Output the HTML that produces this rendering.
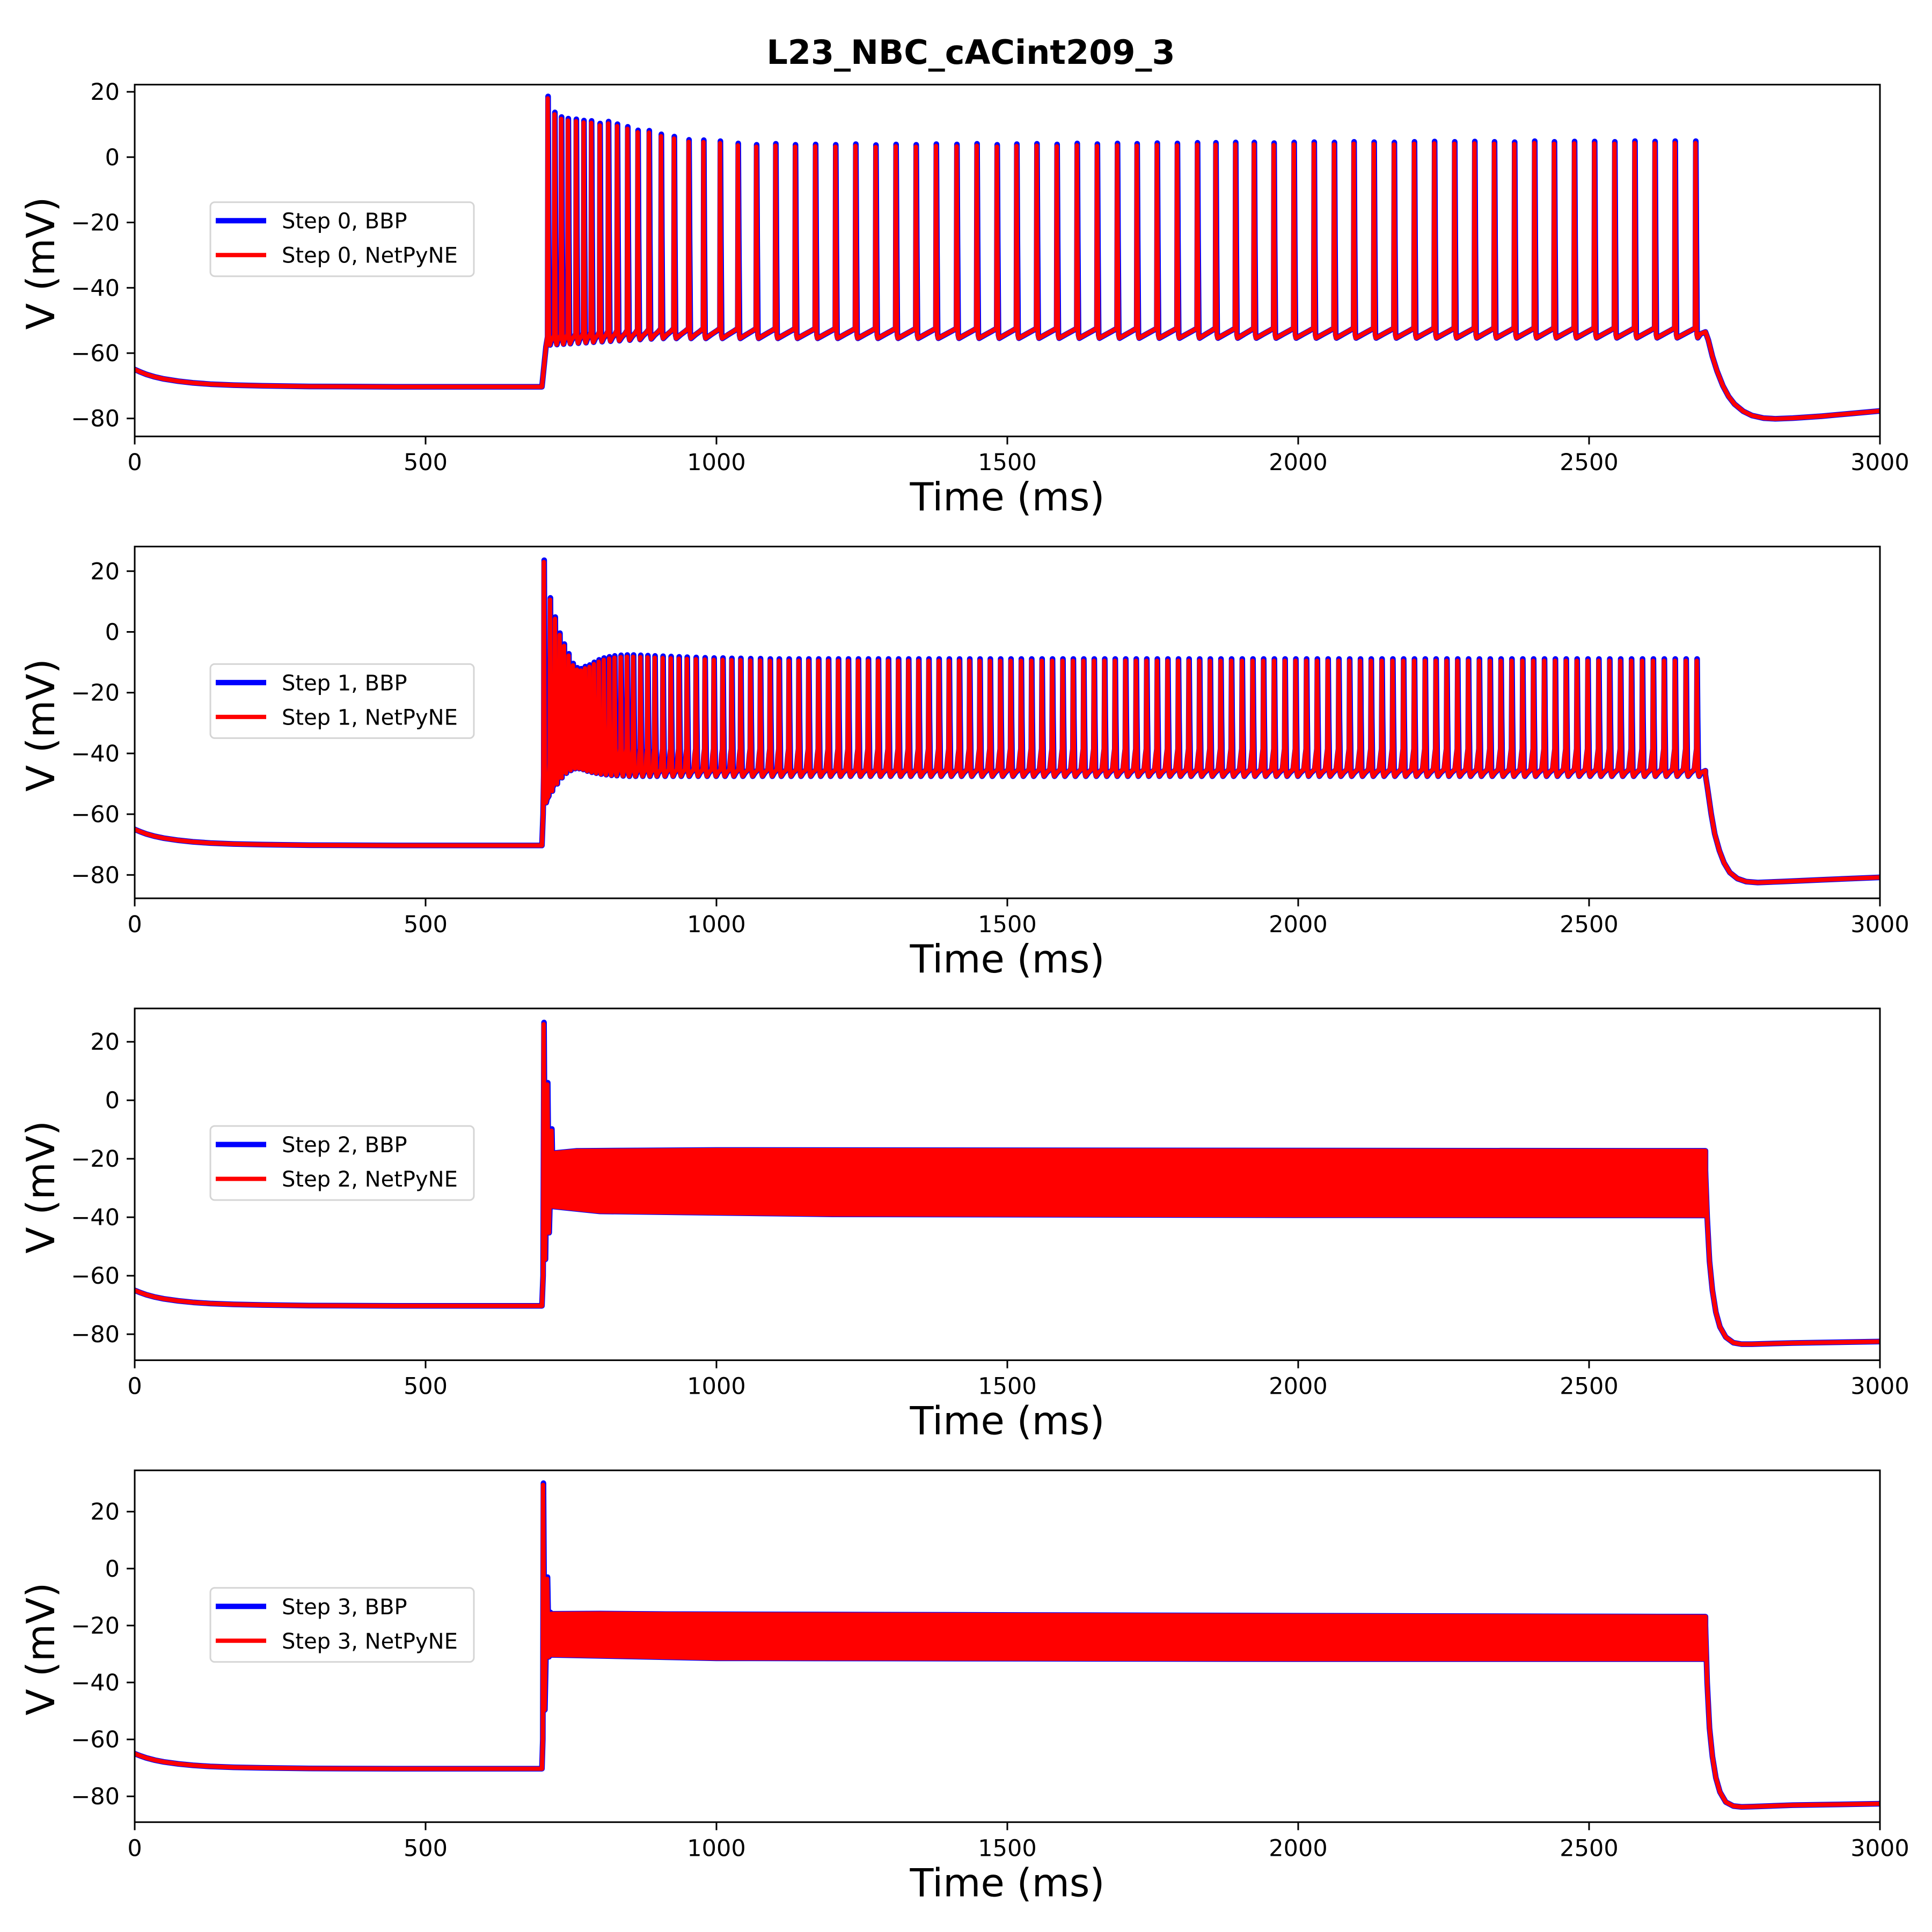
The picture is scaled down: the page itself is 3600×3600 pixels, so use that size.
<!DOCTYPE html>
<html><head><meta charset="utf-8">
<style>
html,body{margin:0;padding:0;background:#fff;}
svg{display:block;}
text{font-family:"DejaVu Sans","Liberation Sans",sans-serif;fill:#000;}
</style></head>
<body>
<svg id="fig" width="3600" height="3600" viewBox="0 0 3600 3600" xmlns="http://www.w3.org/2000/svg">
<rect width="3600" height="3600" fill="#fff"/>
<text x="1809" y="119" font-size="62" font-weight="bold" text-anchor="middle">L23_NBC_cACint209_3</text>
</svg>
<script>
// ---------- data ----------
const xTicks = [0, 500, 1000, 1500, 2000, 2500, 3000];
const yTicks = [-80, -60, -40, -20, 0, 20];
const yRanges = [[-85.5, 22.2], [-87.7, 28.1], [-88.9, 31.4], [-89.06, 34.5]];
const stepNames = ["Step 0", "Step 1", "Step 2", "Step 3"];
const baseline = [[0,-65],[10,-65.8],[20,-66.5],[35,-67.3],[50,-67.9],[75,-68.6],[100,-69.1],[130,-69.5],[170,-69.8],[220,-70],[300,-70.2],[450,-70.3],[700,-70.3]];

// Panel 1 (Step 0)
const p1Times = [710,721.7,733.2,744.8,758.6,771.7,784.8,799.4,814,829.3,847,864.7,884,904.7,927,952.3,977.7,1006.2,1036.9,1068.5,1101.5,1135.3,
 1169.9,1204.5,1239,1273.6,1308.2,1342.8,1377.4,1412.8,1447.4,1482,1515.8,1550.4,1585,1619.6,1654.2,1688.8,1722.6,1757.2,1791.8,1826.4,
 1858,1892,1924,1958,1992.5,2027,2061.7,2095.5,2130,2164.7,2199.3,2233.9,2268.5,2303,2336.9,2371.5,2406,2439.9,2474.5,2509,2543.7,2578.3,2612.9,2647.5,2682.9];
const p1Peaks = [18,13.1,11.7,11.2,11,10.6,10.5,9.7,10.3,9.5,8.7,7.6,7.5,6.4,5.7,4.7,4.6,4.3,3.6,3.2,3.5,3.2,
 3.3,3.2,3.4,3.1,3.3,3.2,3.4,3.3,3.5,3.2,3.4,3.5,3.3,3.6,3.4,3.6,3.5,3.7,3.6,3.8,
 3.8,3.9,3.9,3.7,3.9,4.0,3.9,4.1,4.0,3.9,4.1,4.2,4.1,4.2,4.1,4.0,4.3,4.1,4.2,4.2,4.1,4.3,4.2,4.3,4.3];
const p1Troughs = [[710,-57.5],[800,-56.5],[900,-55.5],[2700,-55.3]];
const p1Pre = [[710,-55],[800,-53.5],[900,-52.5],[2700,-52.3]];
const p1Onset = [[700,-70.3],[707,-58]];
const p1After = [[2700,-53.5],[2705,-56],[2712,-61],[2720,-65.5],[2730,-70],[2740,-73.3],[2750,-75.6],[2765,-77.8],[2780,-79.1],[2800,-79.9],[2820,-80.1],[2850,-79.9],[2900,-79.3],[2950,-78.5],[3000,-77.7]];

// Panel 2 (Step 1)
const p2Times = [703.3,714,722.4,730.4,738,745.8,753.2,760.2,767,774,781.7,789.4,797.7,806.3,815.5,824.7,835.5,846.2,857,869.3,881.6,893.9,907.7,921.5,935.4,949.2,964.6,980,995.4,1010.7,1026,1041.4,1058.3,1075.2,1092,1107.5,1124.4];
const p2Peaks = [23,10.6,4.3,-1,-4.6,-7.8,-11,-12.4,-12.7,-12,-11.5,-10.6,-9.8,-9.2,-8.8,-8.5,-8.3,-8.2,-8.2,-8.3,-8.4,-8.5,-8.6,-8.7,-8.8,-8.9,-9,-9.1,-9.2,-9.2,-9.3,-9.3,-9.4,-9.4,-9.5,-9.5,-9.5];
const p2TroughsEarly = [-56.2,-52.4,-50,-48,-46.5,-45.6,-45,-45,-45.3,-45.8,-46.2,-46.5,-46.8,-47,-47.2,-47.3,-47.4,-47.5];
const p2IsiKnots = [[1124,16.9],[1500,17.8],[2000,18.5],[2700,18.8]];
const p2LatePeak = -9.5, p2LateTrough = -47.5, p2StepEnd = 2700;
const p2Onset = [[700,-70.3],[702,-60]];
const p2After = [[2700,-47],[2704,-52],[2710,-60],[2716,-66.5],[2724,-72],[2732,-76],[2742,-79.2],[2755,-81.2],[2770,-82.2],[2790,-82.5],[2830,-82.2],[2900,-81.6],[3000,-80.8]];

// Panel 3 (Step 2)
const p3Times = [703,709.4,716.5];
const p3Peaks = [26,5.4,-10.4];
const p3Troughs = [-54.4,-45.3,-36.3];
const p3Upper = [[718,-18.1],[760,-17.3],[1000,-17],[2000,-17.2],[2700,-17.3]];
const p3Lower = [[718,-36.3],[800,-38],[1200,-39],[2000,-39.3],[2700,-39.4]];
const p3Onset = [[700,-70.3],[702,-60]];
const p3After = [[2700,-24],[2703,-40],[2707,-55],[2712,-65],[2718,-72.5],[2725,-77.5],[2735,-81],[2748,-82.9],[2762,-83.4],[2780,-83.4],[2850,-83],[3000,-82.5]];

// Panel 4 (Step 3)
const p4Times = [702,709,714];
const p4Peaks = [29.4,-3.6,-16];
const p4Troughs = [-49.6,-31,-30.3];
const p4Upper = [[716,-15.9],[800,-15.8],[1200,-16.5],[2000,-16.8],[2700,-16.9]];
const p4Lower = [[716,-30.3],[1000,-31.5],[2000,-31.8],[2700,-31.8]];
const p4Onset = [[700,-70.3],[701.5,-60]];
const p4After = [[2700,-20],[2703,-40],[2707,-56],[2712,-66],[2718,-73.5],[2725,-78.5],[2735,-82],[2748,-83.4],[2762,-83.7],[2780,-83.6],[2850,-83.1],[3000,-82.6]];

// ---------- layout ----------
const NS = "http://www.w3.org/2000/svg";
const svg = document.getElementById("fig");
const AX_L = 251, AX_R = 3503, AX_T0 = 157.7, AX_H = 655.5, AX_GAP = 860.7;
function xs(t){ return AX_L + t*(AX_R-AX_L)/3000; }
function makeY(i){ const [lo,hi]=yRanges[i]; const top=AX_T0+i*AX_GAP; return v => top + (hi-v)*AX_H/(hi-lo); }
function el(tag, attrs, parent){ const e=document.createElementNS(NS,tag); for(const k in attrs) e.setAttribute(k,attrs[k]); (parent||svg).appendChild(e); return e; }
function interp(knots, t){
  if(t<=knots[0][0]) return knots[0][1];
  for(let k=1;k<knots.length;k++){ if(t<=knots[k][0]){ const a=knots[k-1],b=knots[k]; return a[1]+(b[1]-a[1])*(t-a[0])/(b[0]-a[0]); } }
  return knots[knots.length-1][1];
}
function pts2str(pts, ys){ return pts.map(p=>xs(p[0]).toFixed(2)+","+ys(p[1]).toFixed(2)).join(" "); }

function spikeTrain(times, peaks, troughFn, preFn, endT, shift, peakAdd){
  const pts=[];
  for(let i=0;i<times.length;i++){
    const t=times[i]+shift, P=peaks[i]+peakAdd;
    const tn = i+1<times.length ? times[i+1]+shift : endT;
    const tr=troughFn(i,t), pre=preFn(i,t);
    const isi=tn-t;
    pts.push([t-0.8, pre]); pts.push([t, P]); pts.push([t+0.9, (P+tr)/2]);
    pts.push([t+2.2, tr+1]); pts.push([t+3.5, tr]);
    if(i+1<times.length){
      pts.push([t+isi*0.45, tr+1.2]); pts.push([t+isi*0.75, tr+2.2]); pts.push([tn-2, interp([[0,tr+2.6],[1,pre]],0.7)]);
    } else {
      pts.push([t+isi*0.5, tr+1.2]); pts.push([endT, tr+1.8]);
    }
  }
  return pts;
}

function panelTraces(i, ys, shift, peakAdd, grp){
  let pts=[];
  if(i===0){
    pts = baseline.concat(p1Onset)
      .concat(spikeTrain(p1Times, p1Peaks, (k,t)=>interp(p1Troughs,t), (k,t)=>interp(p1Pre,t), 2700, shift, peakAdd))
      .concat(p1After);
  } else if(i===1){
    const times=p2Times.slice(), peaks=p2Peaks.slice();
    let t=times[times.length-1];
    while(true){ t += interp(p2IsiKnots,t); if(t>p2StepEnd-2) break; times.push(t); peaks.push(p2LatePeak); }
    const trf=(k,tt)=> k<p2TroughsEarly.length ? p2TroughsEarly[k] : p2LateTrough;
    const pref=(k,tt)=> trf(k,tt)+9;
    pts = baseline.concat(p2Onset).concat(spikeTrain(times, peaks, trf, pref, 2700, shift, peakAdd)).concat(p2After);
  } else {
    const T = i===2 ? p3Times : p4Times, Pk = i===2 ? p3Peaks : p4Peaks, Tr = i===2 ? p3Troughs : p4Troughs;
    const Up = i===2 ? p3Upper : p4Upper, Lo = i===2 ? p3Lower : p4Lower;
    const onset = i===2 ? p3Onset : p4Onset, after = i===2 ? p3After : p4After;
    pts = baseline.concat(onset);
    for(let k=0;k<T.length;k++){ pts.push([T[k]+shift, Pk[k]+peakAdd]); pts.push([T[k]+shift+2.5, Tr[k]]); }
    pts.push([Up[0][0], Up[0][1]]);
    const band=[];
    Up.forEach(p=>band.push(p));
    for(let k=Lo.length-1;k>=0;k--) band.push(Lo[k]);
    const poly=el("polygon",{points:pts2str(band,ys),fill:grp.color,stroke:grp.color,"stroke-width":grp.lw,"stroke-linejoin":"round"},grp.g);
    
    
    pts = pts.concat([[2700, Up[Up.length-1][1]]]).concat(after);
  }
  const line=el("polyline",{points:pts2str(pts,ys),fill:"none",stroke:grp.color,"stroke-width":grp.lw,"stroke-linejoin":"round","stroke-linecap":"round"},grp.g);
  
  
}

for(let i=0;i<4;i++){
  const top=AX_T0+i*AX_GAP, bot=top+AX_H, ys=makeY(i);
  const g=el("g",{});
  
  
  const clipId="clip"+i;
  const cp=el("clipPath",{id:clipId},g); el("rect",{x:AX_L,y:top,width:AX_R-AX_L,height:AX_H},cp);
  const gb=el("g",{"clip-path":"url(#"+clipId+")"},g);
  
  
  panelTraces(i, ys, 0.6, 0.6, {g:gb,color:"#0000ff",lw:10.5,kind:"bbp"});
  const gr=el("g",{"clip-path":"url(#"+clipId+")"},g);
  
  
  panelTraces(i, ys, 0, 0, {g:gr,color:"#ff0000",lw:8,kind:"netpyne"});
  const fr=el("rect",{x:AX_L,y:top,width:AX_R-AX_L,height:AX_H,fill:"none",stroke:"#000","stroke-width":3},g);
  
  
  xTicks.forEach(v=>{
    const x=xs(v);
    el("line",{x1:x,y1:bot,x2:x,y2:bot+15,stroke:"#000","stroke-width":3},g);
    const tx=el("text",{x:x,y:bot+63,"font-size":43,"text-anchor":"middle"},g);
    tx.textContent=String(v);
    
    
  });
  yTicks.forEach(v=>{
    const y=ys(v);
    if(y<top-1||y>bot+1) return;
    el("line",{x1:AX_L-15,y1:y,x2:AX_L,y2:y,stroke:"#000","stroke-width":3},g);
    const ty=el("text",{x:223,y:y+15,"font-size":43,"text-anchor":"end"},g);
    ty.textContent=(v<0?"\u2212"+Math.abs(v):String(v));
    
    
  });
  const xl=el("text",{x:1877,y:bot+138,"font-size":72,"text-anchor":"middle"},g);
  xl.textContent="Time (ms)";
  
  
  const cy=top+AX_H/2+5;
  const yl=el("text",{x:0,y:0,"font-size":72,"text-anchor":"middle",transform:"translate(101,"+cy+") rotate(-90)"},g);
  yl.textContent="V (mV)";
  
  
  const lg=el("g",{},g);
  
  
  el("rect",{x:392,y:top+219,width:491,height:138,rx:8,fill:"#fff","fill-opacity":0.8,stroke:"#d5d5d5","stroke-width":3},lg);
  const e1=el("line",{x1:402,y1:top+253.5,x2:496,y2:top+253.5,stroke:"#0000ff","stroke-width":10},lg);
  
  
  const t1=el("text",{x:525,y:top+268,"font-size":40},lg);
  t1.textContent=stepNames[i]+", BBP";
  
  
  const e2=el("line",{x1:402,y1:top+317.5,x2:496,y2:top+317.5,stroke:"#ff0000","stroke-width":8},lg);
  
  
  const t2=el("text",{x:525,y:top+332,"font-size":40},lg);
  t2.textContent=stepNames[i]+", NetPyNE";
  
  
}
</script>
</body></html>
